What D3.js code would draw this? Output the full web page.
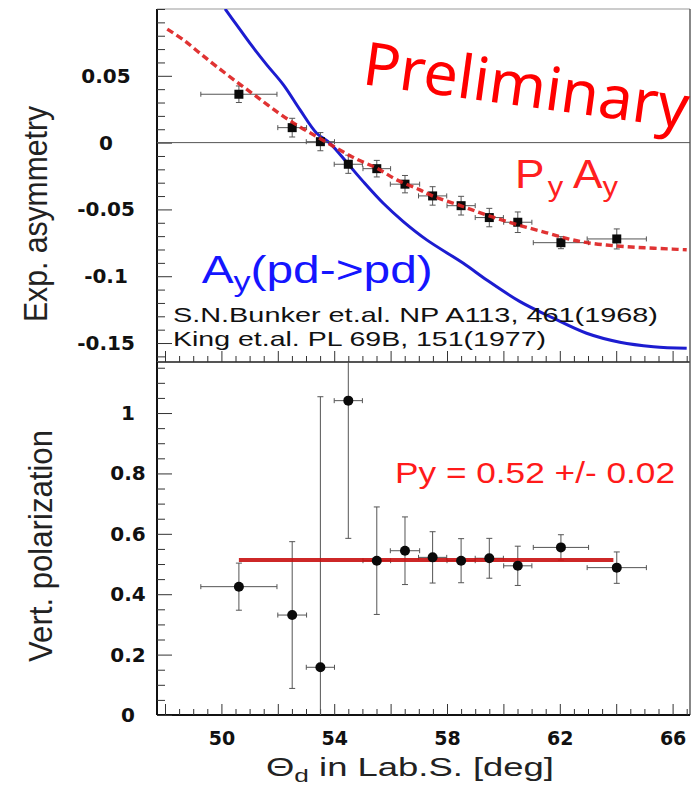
<!DOCTYPE html>
<html><head><meta charset="utf-8">
<script src="https://cdn.jsdelivr.net/npm/d3@7"></script>
<style>html,body{margin:0;padding:0;background:#fff;}svg{display:block;}</style>
</head><body>
<svg id="c" width="696" height="794"></svg>
<script>
// ---- data ----
const angles    = [50.62, 52.51, 53.51, 54.50, 55.51, 56.51, 57.49, 58.50, 59.50, 60.51, 62.04, 64.02];
const angleErr  = [1.35, 0.51, 0.50, 0.50, 0.49, 0.52, 0.50, 0.50, 0.50, 0.50, 0.98, 1.05];
const asym      = [0.0362, 0.0112, 0.0007, -0.0162, -0.0195, -0.0311, -0.0399, -0.0472, -0.0561, -0.0596, -0.0749, -0.0721];
const asymErr   = [0.0062, 0.0070, 0.0068, 0.0068, 0.0062, 0.0065, 0.0069, 0.0070, 0.0069, 0.0077, 0.0045, 0.0075];
const pol       = [0.425, 0.331, 0.158, 1.041, 0.511, 0.544, 0.522, 0.511, 0.519, 0.494, 0.555, 0.488];
const polErr    = [0.078, 0.243, 0.896, 0.456, 0.178, 0.112, 0.085, 0.073, 0.066, 0.065, 0.042, 0.052];
const fitPy     = 0.513;
const fitRange  = [50.62, 63.9];
const blueX = [50.13, 50.54, 51.01, 51.61, 52.2, 52.79, 53.38, 53.85, 54.5, 55.03, 55.74, 56.45, 57.28, 58.58, 59.41, 60.59, 61.77, 62.95, 64.13, 65.32, 66.5];
const blueY = [0.1001, 0.0881, 0.0744, 0.0582, 0.0432, 0.0245, 0.0070, -0.0005, -0.0162, -0.0292, -0.0454, -0.0591, -0.0728, -0.0903, -0.1028, -0.1190, -0.1314, -0.1427, -0.1494, -0.1527, -0.1539];
const redX = [48.08, 48.65, 49.24, 49.83, 50.6, 51.25, 51.96, 52.67, 53.38, 54.09, 54.8, 55.51, 56.22, 57.0, 57.5, 58.5, 59.5, 60.5, 61.5, 62.3, 63.0, 64.0, 65.0, 66.0, 66.5];
const redY = [0.0849, 0.0769, 0.0669, 0.0569, 0.0445, 0.0344, 0.0232, 0.0132, 0.0045, -0.0042, -0.0124, -0.0192, -0.0279, -0.0350, -0.0400, -0.0474, -0.0549, -0.0615, -0.0673, -0.0720, -0.0750, -0.0773, -0.0787, -0.0797, -0.0802];
const xMajorTicks = [48, 50, 52, 54, 56, 58, 60, 62, 64, 66];
const xLabelTicks = [50, 54, 58, 62, 66];
const yTopTicks = [-0.15, -0.1, -0.05, 0, 0.05];
const yTopLabels = ["-0.15", "-0.1", "-0.05", "0", "0.05"];
const yBotTicks = [0, 0.2, 0.4, 0.6, 0.8, 1];
const yBotLabels = ["0", "0.2", "0.4", "0.6", "0.8", "1"];

// ---- layout ----
const L = 157, R = 690, T1 = 9, B1 = 362, T2 = 362, B2 = 715;
const svg = d3.select("#c");
const x = d3.scaleLinear().domain([47.716, 66.617]).range([L, R]);
const yT = d3.scaleLinear().domain([-0.1642, 0.1]).range([B1, T1]);
const yB = d3.scaleLinear().domain([0, 1.169]).range([B2, T2]);

const defs = svg.append("defs");
defs.append("clipPath").attr("id","clipT").append("rect").attr("x",L).attr("y",T1).attr("width",R-L).attr("height",B1-T1);
defs.append("clipPath").attr("id","clipB").append("rect").attr("x",L).attr("y",T2).attr("width",R-L).attr("height",B2-T2);

// frames
function frame(t,b){
  svg.append("line").attr("x1",L).attr("x2",R).attr("y1",t).attr("y2",t).attr("stroke","#999").attr("stroke-width",1.2);
  svg.append("line").attr("x1",R).attr("x2",R).attr("y1",t).attr("y2",b).attr("stroke","#555").attr("stroke-width",1.4);
  svg.append("line").attr("x1",L).attr("x2",R).attr("y1",b).attr("y2",b).attr("stroke","#111").attr("stroke-width",2);
  svg.append("line").attr("x1",L).attr("x2",L).attr("y1",t).attr("y2",b).attr("stroke","#111").attr("stroke-width",2);
}
frame(T1,B1); frame(T2,B2);

const minorX = d3.range(47.5, 66.7, 0.5).filter(v => v >= 47.716 && v <= 66.617 && !xMajorTicks.includes(v));
function xAxes(yPos, withLabels){
  const gm = svg.append("g").attr("transform",`translate(0,${yPos})`)
    .call(d3.axisBottom(x).tickValues(minorX).tickSize(-6).tickFormat(""));
  gm.select(".domain").remove();
  const g = svg.append("g").attr("transform",`translate(0,${yPos})`)
    .call(d3.axisBottom(x).tickValues(xMajorTicks).tickSize(-11).tickPadding(17)
      .tickFormat(d => withLabels && xLabelTicks.includes(d) ? String(d) : ""));
  g.select(".domain").remove();
  [gm,g].forEach(gg => gg.selectAll(".tick line").attr("stroke","#333").attr("stroke-width",1));
  g.selectAll("text").attr("font-family","DejaVu Sans").attr("font-weight","bold").attr("font-size",19).attr("fill","#111");
}
xAxes(B1,false); xAxes(B2,true);

function yAxes(scale, major, labels, minor, labelX){
  const gm = svg.append("g").attr("transform",`translate(${L},0)`)
    .call(d3.axisLeft(scale).tickValues(minor).tickSize(-8).tickFormat(""));
  gm.select(".domain").remove();
  const g = svg.append("g").attr("transform",`translate(${L},0)`)
    .call(d3.axisLeft(scale).tickValues(major).tickSize(-15).tickFormat((d,i)=>labels[i]));
  g.select(".domain").remove();
  [gm,g].forEach(gg => gg.selectAll(".tick line").attr("stroke","#333").attr("stroke-width",1));
  g.selectAll("text").attr("x",labelX - L).attr("text-anchor","middle")
   .attr("font-family","DejaVu Sans").attr("font-weight","bold").attr("font-size",20).attr("fill","#111");
}
const minorYT = d3.range(-16, 11, 1).map(v => v/100).filter(v => !yTopTicks.some(m => Math.abs(m-v)<1e-9));
const minorYB = d3.range(0, 24, 1).map(v => v*0.05).filter(v => v <= 1.169 && !yBotTicks.some(m => Math.abs(m-v)<1e-9));
yAxes(yT, yTopTicks, yTopLabels, minorYT, 106);
yAxes(yB, yBotTicks, yBotLabels, minorYB, 128);

// ---- top panel ----
const gT = svg.append("g").attr("clip-path","url(#clipT)");
gT.append("line").attr("x1",L).attr("x2",R).attr("y1",yT(0)).attr("y2",yT(0)).attr("stroke","#555").attr("stroke-width",1);

const line = (sx, sy) => d3.line().x(d => sx(d[0])).y(d => sy(d[1])).curve(d3.curveCatmullRom);
gT.append("path").datum(blueX.map((v,i)=>[v,blueY[i]])).attr("d", line(x,yT))
  .attr("fill","none").attr("stroke","#1c1cd0").attr("stroke-width",3);

function errBars(g, sy, ys, yerr){
  const ebc = "#555";
  angles.forEach((a,i) => {
    const cx = x(a), cy = sy(ys[i]);
    const x0 = x(a-angleErr[i]), x1 = x(a+angleErr[i]);
    const y0 = sy(ys[i]-yerr[i]), y1 = sy(ys[i]+yerr[i]);
    g.append("line").attr("x1",x0).attr("x2",x1).attr("y1",cy).attr("y2",cy).attr("stroke",ebc).attr("stroke-width",1);
    g.append("line").attr("x1",x0).attr("x2",x0).attr("y1",cy-2.5).attr("y2",cy+2.5).attr("stroke",ebc).attr("stroke-width",1);
    g.append("line").attr("x1",x1).attr("x2",x1).attr("y1",cy-2.5).attr("y2",cy+2.5).attr("stroke",ebc).attr("stroke-width",1);
    g.append("line").attr("x1",cx).attr("x2",cx).attr("y1",y0).attr("y2",y1).attr("stroke",ebc).attr("stroke-width",1);
    g.append("line").attr("x1",cx-3).attr("x2",cx+3).attr("y1",y0).attr("y2",y0).attr("stroke",ebc).attr("stroke-width",1);
    g.append("line").attr("x1",cx-3).attr("x2",cx+3).attr("y1",y1).attr("y2",y1).attr("stroke",ebc).attr("stroke-width",1);
  });
}
errBars(gT, yT, asym, asymErr);
gT.selectAll("rect.pt").data(angles).join("rect").attr("class","pt")
  .attr("x",(d)=>x(d)-4.5).attr("y",(d,i)=>yT(asym[i])-4.5).attr("width",9).attr("height",9).attr("fill","#0a0a0a");

gT.append("path").datum(redX.map((v,i)=>[v,redY[i]])).attr("d", line(x,yT))
  .attr("fill","none").attr("stroke","#dd2222").attr("stroke-width",3.4).attr("stroke-dasharray","7,4").attr("opacity",0.92);

// texts top
svg.append("text").attr("x",361).attr("y",84).attr("transform","rotate(7.8,361,84)")
  .attr("font-family","Noto Sans").attr("font-size",60).attr("fill","#ff0000")
  .attr("textLength",328).attr("lengthAdjust","spacingAndGlyphs").text("Preliminary");

const pa = svg.append("text").attr("x",515).attr("y",188).attr("font-family","Liberation Sans")
  .attr("font-size",40).attr("fill","#ff2020").attr("textLength",103).attr("lengthAdjust","spacingAndGlyphs");
pa.append("tspan").text("P");
pa.append("tspan").attr("font-size",28).attr("dy",8).attr("dx",3).text("y");
pa.append("tspan").attr("dy",-8).text(" A");
pa.append("tspan").attr("font-size",28).attr("dy",8).text("y");

const ay = svg.append("text").attr("x",201.7).attr("y",283.3).attr("font-family","Liberation Sans")
  .attr("font-size",38).attr("fill","#1515ff").attr("textLength",231).attr("lengthAdjust","spacingAndGlyphs");
ay.append("tspan").text("A");
ay.append("tspan").attr("font-size",27).attr("dy",8).text("y");
ay.append("tspan").attr("dy",-8).text("(pd->pd)");

svg.append("text").attr("x",173).attr("y",322).attr("font-family","Liberation Sans").attr("font-size",21)
  .attr("fill","#111").attr("textLength",485).attr("lengthAdjust","spacingAndGlyphs").text("S.N.Bunker et.al. NP A113, 461(1968)");
svg.append("text").attr("x",173).attr("y",346).attr("font-family","Liberation Sans").attr("font-size",21)
  .attr("fill","#111").attr("textLength",373).attr("lengthAdjust","spacingAndGlyphs").text("King et.al. PL 69B, 151(1977)");

// ---- bottom panel ----
const gB = svg.append("g").attr("clip-path","url(#clipB)");
errBars(gB, yB, pol, polErr);
gB.append("line").attr("x1",x(fitRange[0])).attr("x2",x(fitRange[1])).attr("y1",yB(fitPy)).attr("y2",yB(fitPy))
  .attr("stroke","#c81010").attr("stroke-width",4).attr("opacity",0.9);
gB.selectAll("circle.pt").data(angles).join("circle").attr("class","pt")
  .attr("cx",d=>x(d)).attr("cy",(d,i)=>yB(pol[i])).attr("r",5).attr("fill","#0a0a0a");

svg.append("text").attr("x",395).attr("y",483).attr("font-family","Liberation Sans").attr("font-size",30)
  .attr("fill","#ff1a1a").attr("textLength",280).attr("lengthAdjust","spacingAndGlyphs").text("Py = 0.52 +/- 0.02");

// ---- axis titles ----
svg.append("text").attr("transform","translate(47,214) rotate(-90)").attr("text-anchor","middle")
  .attr("font-family","Liberation Sans").attr("font-size",33).attr("fill","#222")
  .attr("textLength",216).attr("lengthAdjust","spacingAndGlyphs").text("Exp. asymmetry");
svg.append("text").attr("transform","translate(52,546) rotate(-90)").attr("text-anchor","middle")
  .attr("font-family","Liberation Sans").attr("font-size",33).attr("fill","#222")
  .attr("textLength",232).attr("lengthAdjust","spacingAndGlyphs").text("Vert. polarization");

const xt = svg.append("text").attr("x",266).attr("y",776).attr("font-family","Liberation Sans")
  .attr("font-size",25).attr("fill","#222").attr("textLength",288).attr("lengthAdjust","spacingAndGlyphs");
xt.append("tspan").text("Θ");
xt.append("tspan").attr("font-size",18).attr("dy",6).text("d");
xt.append("tspan").attr("dy",-6).text("  in Lab.S. [deg]");
</script>
</body></html>
